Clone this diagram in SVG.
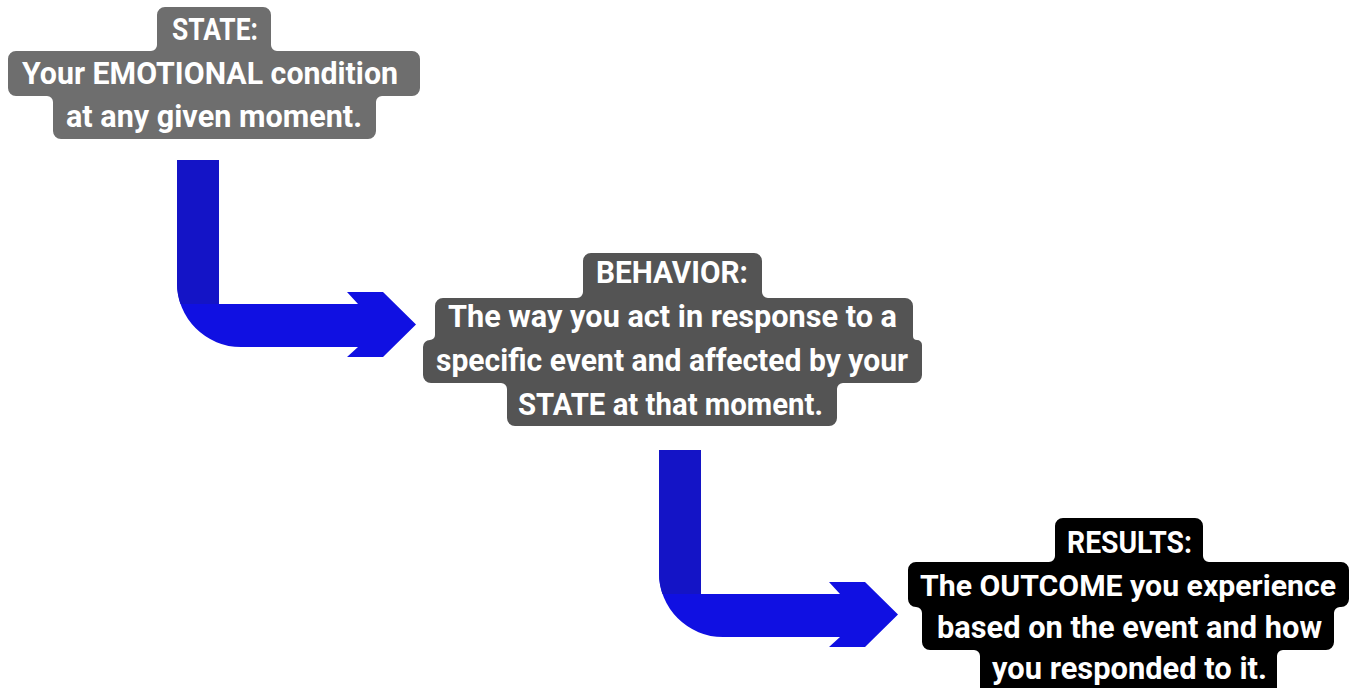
<svg xmlns="http://www.w3.org/2000/svg" width="1354" height="688" viewBox="0 0 1354 688">
  <style>
    .lbl { font-family: Roboto, "Liberation Sans", Arial, sans-serif; font-weight: bold; font-size: 32px; fill: #ffffff; }
    .lbl.tight { font-size: 30px; }
    .state { fill: #6e6e6e; }
    .behavior { fill: #545454; }
    .results { fill: #000000; }
    .shaft-bend { fill: #1010e2; }
    .shaft-drop { fill: #1414c6; }
  </style>
  <defs>
    <!-- L-shaped block arrow: drop, rounded bend, then notched head -->
    <g id="bend-arrow">
      <path class="shaft-bend" d="M177,160 H219 V304 H358 L347,292 H383 L416,324.5 L383,357 H347 L358,347 H241 A64,64 0 0 1 177,283 Z"/>
      <path class="shaft-drop" d="M177,160 H219 V304 H180.5 A64,64 0 0 1 177,283 Z"/>
    </g>
  </defs>

  <rect width="1354" height="688" fill="#ffffff"/>

  <g id="connectors">
    <use href="#bend-arrow"/>
    <use href="#bend-arrow" transform="translate(482,290)"/>
  </g>

  <!-- each label sits on a stepped backing: one rounded band per line, filleted where bands meet -->
  <g id="state">
    <path class="state" d="M165,7 H263 A8,8 0 0 1 271,15 V45 A6,6 0 0 0 277,51 H412 A8,8 0 0 1 420,59 V88 A8,8 0 0 1 412,96 H382 A6,6 0 0 0 376,102 V131 A8,8 0 0 1 368,139 H61 A8,8 0 0 1 53,131 V102 A6,6 0 0 0 47,96 H16 A8,8 0 0 1 8,88 V59 A8,8 0 0 1 16,51 H151 A6,6 0 0 0 157,45 V15 A8,8 0 0 1 165,7 Z"/>
    <text class="lbl" x="172" y="40" textLength="86" lengthAdjust="spacingAndGlyphs">STATE:</text>
    <text class="lbl" x="22" y="84" textLength="376" lengthAdjust="spacingAndGlyphs">Your EMOTIONAL condition</text>
    <text class="lbl" x="66" y="127" textLength="296" lengthAdjust="spacingAndGlyphs">at any given moment.</text>
  </g>

  <g id="behavior">
    <path class="behavior" d="M591,253 H754 A8,8 0 0 1 762,261 V292 A6,6 0 0 0 768,298 H905 A8,8 0 0 1 913,306 V336 A4,4 0 0 0 917,340 A5,5 0 0 1 922,345 V375 A8,8 0 0 1 914,383 H843 A6,6 0 0 0 837,389 V418 A8,8 0 0 1 829,426 H515 A8,8 0 0 1 507,418 V389 A6,6 0 0 0 501,383 H431 A8,8 0 0 1 423,375 V347 A7,7 0 0 1 430,340 A5,5 0 0 0 435,335 V306 A8,8 0 0 1 443,298 H577 A6,6 0 0 0 583,292 V261 A8,8 0 0 1 591,253 Z"/>
    <text class="lbl" x="596" y="283" textLength="152" lengthAdjust="spacingAndGlyphs">BEHAVIOR:</text>
    <text class="lbl" x="448" y="327" textLength="449" lengthAdjust="spacingAndGlyphs">The way you act in response to a</text>
    <text class="lbl" x="436" y="371" textLength="472" lengthAdjust="spacingAndGlyphs">specific event and affected by your</text>
    <text class="lbl" x="518" y="415" textLength="305" lengthAdjust="spacingAndGlyphs">STATE at that moment.</text>
  </g>

  <g id="results">
    <path class="results" d="M1063,518 H1195 A8,8 0 0 1 1203,526 V556 A6,6 0 0 0 1209,562 H1341 A8,8 0 0 1 1349,570 V599 A8,8 0 0 1 1341,607 H1340 A6,6 0 0 0 1334,613 V642 A8,8 0 0 1 1326,650 H1283 A6,6 0 0 0 1277,656 V694 H980 V656 A6,6 0 0 0 974,650 H930 A8,8 0 0 1 922,642 V613 A6,6 0 0 0 916,607 A8,8 0 0 1 908,599 V570 A8,8 0 0 1 916,562 H1049 A6,6 0 0 0 1055,556 V526 A8,8 0 0 1 1063,518 Z"/>
    <text class="lbl" x="1067" y="553" textLength="125" lengthAdjust="spacingAndGlyphs">RESULTS:</text>
    <text class="lbl tight" x="920" y="596" textLength="416" lengthAdjust="spacingAndGlyphs">The OUTCOME you experience</text>
    <text class="lbl" x="937" y="638" textLength="385" lengthAdjust="spacingAndGlyphs">based on the event and how</text>
    <text class="lbl" x="992" y="679" textLength="275" lengthAdjust="spacingAndGlyphs">you responded to it.</text>
  </g>
</svg>
